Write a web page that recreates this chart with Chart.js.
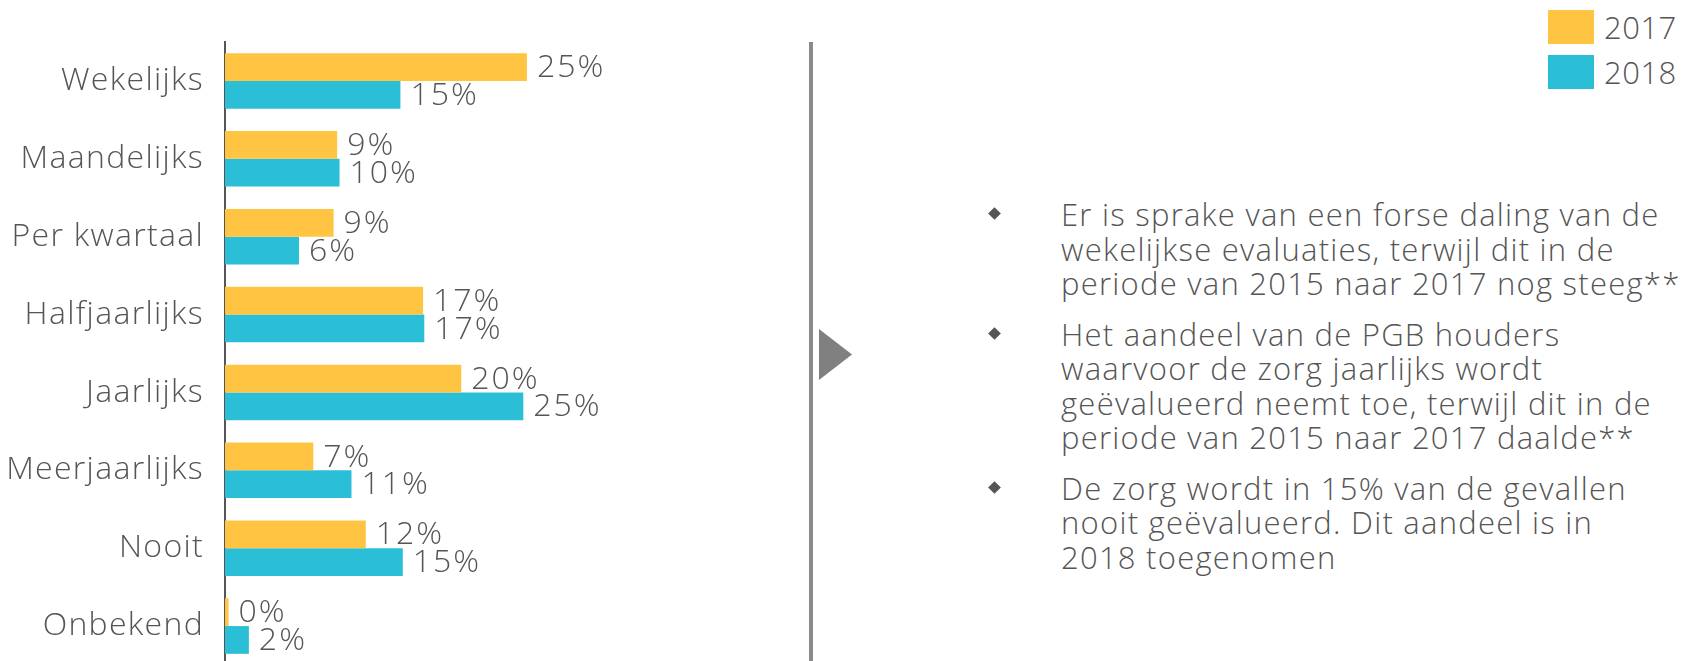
<!DOCTYPE html>
<html>
<head>
<meta charset="utf-8">
<script src="https://cdn.jsdelivr.net/npm/chart.js@4.4.0/dist/chart.umd.min.js"></script>
<style>
  html, body { margin: 0; padding: 0; background: #fff; }
  body { width: 1683px; height: 661px; overflow: hidden; position: relative; font-family: "Open Sans", sans-serif; font-weight: 300; color: #555; }
  #chartBox { position: absolute; left: 0; top: 0; width: 700px; height: 665px; }
  #legend { position: absolute; left: 1548px; top: 10px; }
  #legend .item { display: flex; align-items: center; height: 34px; margin-bottom: 11px; font-size: 31px; letter-spacing: 0.5px; }
  #legend .swatch { width: 46px; height: 34px; margin-right: 10px; }
  #divider { position: absolute; left: 809px; top: 42px; width: 4px; height: 630px; background: #8a8a8a; }
  #arrow { position: absolute; left: 819px; top: 329px; }
  #notes { position: absolute; left: 1061px; top: 197px; font-size: 31px; line-height: 34.5px; letter-spacing: 1.25px; white-space: nowrap; }
  #notes p { margin: 0 0 16px 0; position: relative; }
  #notes p::before { content: ""; position: absolute; left: -71px; top: 12px; width: 9px; height: 9px; background: #555; transform: rotate(45deg); }
</style>
</head>
<body>
<div id="chartBox"><canvas id="evalChart" width="700" height="665"></canvas></div>
<div id="legend"></div>
<div id="divider"></div>
<svg id="arrow" width="34" height="52"><polygon points="0,0 33,25.5 0,51" fill="#808080"/></svg>
<div id="notes"></div>

<script>
// Data
const categories = ['Wekelijks', 'Maandelijks', 'Per kwartaal', 'Halfjaarlijks', 'Jaarlijks', 'Meerjaarlijks', 'Nooit', 'Onbekend'];
const years = ['2017', '2018'];
const values2017 = [25.3, 9.4, 9.1, 16.6, 19.8, 7.4, 11.8, 0.3];
const values2018 = [14.7, 9.6, 6.2, 16.7, 25.0, 10.6, 14.9, 2.0];
const colors = ['#FFC542', '#2BBFD7'];

const notes = [
    ['Er is sprake van een forse daling van de', 'wekelijkse evaluaties, terwijl dit in de', 'periode van 2015 naar 2017 nog steeg**'],
    ['Het aandeel van de PGB houders', 'waarvoor de zorg jaarlijks wordt', 'geëvalueerd neemt toe, terwijl dit in de', 'periode van 2015 naar 2017 daalde**'],
    ['De zorg wordt in 15% van de gevallen', 'nooit geëvalueerd. Dit aandeel is in', '2018 toegenomen']
];

const textColor = '#555';
const labelFont = { family: 'Open Sans', size: 32, weight: 300 };

// wider tracking for the category labels
const tracking = {
    id: 'tracking',
    beforeDraw(chart) {
        chart.ctx.letterSpacing = '1.3px';
    }
};

// percentage labels right of each bar
const barLabels = {
    id: 'barLabels',
    afterDatasetsDraw(chart) {
        const ctx = chart.ctx;
        ctx.save();
        ctx.font = '300 32px "Open Sans"';
        ctx.letterSpacing = '2px';
        ctx.fillStyle = textColor;
        ctx.textBaseline = 'middle';
        chart.data.datasets.forEach((ds, i) => {
            chart.getDatasetMeta(i).data.forEach((bar, j) => {
                ctx.fillText(Math.round(ds.data[j]) + '%', bar.x + 10, bar.y + 1);
            });
        });
        ctx.restore();
    }
};

const evalChart = new Chart(document.getElementById('evalChart').getContext('2d'), {
    type: 'bar',
    data: {
        labels: categories,
        datasets: [
            { label: years[0], data: values2017, backgroundColor: colors[0] },
            { label: years[1], data: values2018, backgroundColor: colors[1] }
        ]
    },
    options: {
        indexAxis: 'y',
        responsive: false,
        animation: false,
        devicePixelRatio: 1,
        categoryPercentage: 0.713,
        barPercentage: 1.0,
        layout: { padding: { top: 42, right: 117, bottom: 0, left: 0 } },
        plugins: {
            legend: { display: false },
            tooltip: { enabled: false }
        },
        scales: {
            x: { display: false, min: 0, max: 30 },
            y: {
                // fixed label column, and no extra room for the first/last label
                afterFit: (scale) => {
                    scale.width = 225;
                    scale.paddingTop = 0;
                    scale.paddingBottom = 0;
                },
                grid: { display: false, drawTicks: false },
                border: { display: true, color: textColor, width: 2 },
                ticks: { color: textColor, font: labelFont, padding: 21 }
            }
        }
    },
    plugins: [tracking, barLabels]
});

// legend from the datasets
const legendEl = document.getElementById('legend');
evalChart.data.datasets.forEach(ds => {
    const item = document.createElement('div');
    item.className = 'item';
    item.innerHTML = '<span class="swatch" style="background:' + ds.backgroundColor + '"></span>' + ds.label;
    legendEl.appendChild(item);
});

// bullet notes
const notesEl = document.getElementById('notes');
notes.forEach(lines => {
    const p = document.createElement('p');
    p.innerHTML = lines.join('<br>');
    notesEl.appendChild(p);
});
</script>
</body>
</html>
